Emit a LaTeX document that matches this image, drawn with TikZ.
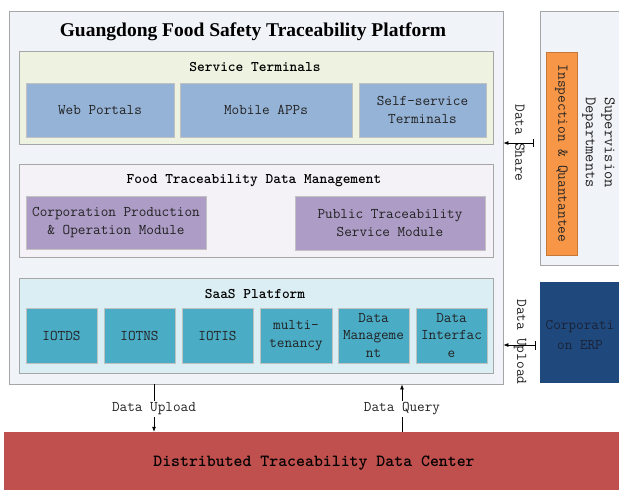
\documentclass[tikz,border=0pt]{standalone}
\usepackage{fontspec}
\setmainfont{Liberation Serif}
\usetikzlibrary{arrows.meta}

\definecolor{panelbg}{HTML}{F0F3F8}
\definecolor{panelline}{HTML}{A6A6A6}
\definecolor{termbg}{HTML}{EEF2E1}
\definecolor{termbox}{HTML}{95B3D7}
\definecolor{mgmtbg}{HTML}{F4F2F6}
\definecolor{mgmtbox}{HTML}{AC9CC6}
\definecolor{saasbg}{HTML}{DAEEF3}
\definecolor{saasbox}{HTML}{4BACC6}
\definecolor{inspect}{HTML}{F79646}
\definecolor{erpbox}{HTML}{1F497D}
\definecolor{erptext}{HTML}{1A2238}
\definecolor{centerbox}{HTML}{C0504D}
\definecolor{boxtext}{HTML}{222222}

\tikzset{
  panel/.style={draw=panelline, line width=0.8pt, fill=panelbg, rectangle, inner sep=0pt},
  group/.style={draw=panelline, line width=0.8pt, rectangle, inner sep=0pt},
  item/.style={draw=panelline!70, line width=0.5pt, rectangle, inner sep=1pt,
    align=center, text=boxtext, font=\ttfamily\fontsize{14.8}{17.5}\selectfont},
  termitem/.style={item, fill=termbox},
  mgmtitem/.style={item, fill=mgmtbox},
  saasitem/.style={item, fill=saasbox, minimum height=55, minimum width=71},
  grouptitle/.style={font=\ttfamily\bfseries\fontsize{14.7}{16}\selectfont, text=black},
  sidelabel/.style={rotate=-90, font=\ttfamily\fontsize{15}{16}\selectfont, text=boxtext, inner sep=1pt},
  flowlabel/.style={fill=white, font=\ttfamily\fontsize{14.8}{16}\selectfont, text=boxtext, inner sep=2pt},
  arr/.style={draw=black, line width=0.7pt, -{Latex[length=5pt,width=4pt]}},
  tick/.style={draw=black, line width=0.7pt},
}

\begin{document}
\begin{tikzpicture}[x=1pt, y=-1pt]
\useasboundingbox (0,0) rectangle (619,490);
\clip (0,0) rectangle (619,490);

% platform frame
\node[panel, minimum width=494, minimum height=373] (main) at (256,197.5) {};
\node[font=\bfseries\fontsize{19.5}{22}\selectfont] (title) at (253,32)
  {Guangdong Food Safety Traceability Platform};

% service terminals
\node[group, fill=termbg, minimum width=474, minimum height=93] (term) at (256,97.5) {};
\node[grouptitle] (termtitle) at (255,67) {Service Terminals};
\node[termitem, minimum width=148, minimum height=54] (web) at (100,110) {Web Portals};
\node[termitem, minimum width=172, minimum height=54] (mobile) at (266,110) {Mobile APPs};
\node[termitem, minimum width=127, minimum height=54] (self) at (422.5,110) {Self-service\\Terminals};

% data management
\node[group, fill=mgmtbg, minimum width=474, minimum height=93] (mgmt) at (256,210.5) {};
\node[grouptitle] (mgmttitle) at (254,181) {Food Traceability Data Management};
\node[mgmtitem, minimum width=180, minimum height=53] (corpmod) at (116,222.5)
  {Corporation Production\\\& Operation Module};
\node[mgmtitem, minimum width=190, minimum height=54] (pubmod) at (390,223)
  {Public Traceability\\Service Module};

% SaaS platform
\node[group, fill=saasbg, minimum width=474, minimum height=95] (saas) at (256,325.5) {};
\node[grouptitle] (saastitle) at (255,294) {SaaS Platform};
\node[saasitem] (iotds) at (61.5,335.5) {IOTDS};
\node[saasitem] (iotns) at (139.5,335.5) {IOTNS};
\node[saasitem] (iotis) at (217.5,335.5) {IOTIS};
\node[saasitem, minimum width=72] (multi) at (296,335.5) {multi-\\tenancy};
\node[saasitem] (dmgmt) at (373.5,335.5) {Data\\Manageme\\nt};
\node[saasitem] (diface) at (451.5,335.5) {Data\\Interfac\\e};

% supervision departments
\node[panel, minimum width=90, minimum height=254] (super) at (585,138) {};
\node[draw=inspect!80!black, line width=0.5pt, fill=inspect, minimum width=31,
  minimum height=203, inner sep=0pt] (inspect) at (561.5,153.5) {};
\node[sidelabel, text=black!85] (inspecttext) at (inspect.center) {Inspection \& Quantantee};
\node[sidelabel, align=left, font=\ttfamily\fontsize{16}{19}\selectfont, anchor=west]
  (supertext) at (598.5,96) {Supervision\\Departments};

% corporation ERP
\node[fill=erpbox, minimum width=90, minimum height=101, inner sep=0pt] (erp) at (585,332.5) {};
\node[align=center, text=erptext, font=\ttfamily\fontsize{14.8}{20}\selectfont]
  (erptextnode) at (580,335) {Corporati\\on ERP};

% distributed data center
\node[fill=centerbox, minimum width=625, minimum height=64, inner sep=0pt] (dc) at (316,464) {};
\node[font=\ttfamily\bfseries\fontsize{17}{18}\selectfont, text=black] (dctext) at (314,463)
  {Distributed Traceability Data Center};

% data share link
\node[sidelabel] (sharelbl) at (520,143) {Data Share};
\coordinate (shareT) at (533,139);
\coordinate (shareB) at (533,147);
\coordinate (shareM) at (533,143);
\draw[tick] (shareT) -- (shareB);
\draw[arr] (shareM) -- (shareM -| main.east);

% ERP upload link
\node[sidelabel] (erplbl) at (520,342) {Data Upload};
\coordinate (erpT) at (535,341);
\coordinate (erpB) at (535,350);
\coordinate (erpM) at (535,345);
\draw[tick] (erpT) -- (erpB);
\draw[arr] (erpM) -- (erpM -| main.east);

% platform <-> data center
\coordinate (upx) at (154,0);
\coordinate (qx) at (402,0);
\draw[arr] (main.south -| upx) -- (dc.north -| upx);
\node[flowlabel] (uplbl) at (154,409) {Data Upload};
\draw[arr] (dc.north -| qx) -- (main.south -| qx);
\node[flowlabel] (qlbl) at (402,409) {Data Query};
\end{tikzpicture}
\end{document}
